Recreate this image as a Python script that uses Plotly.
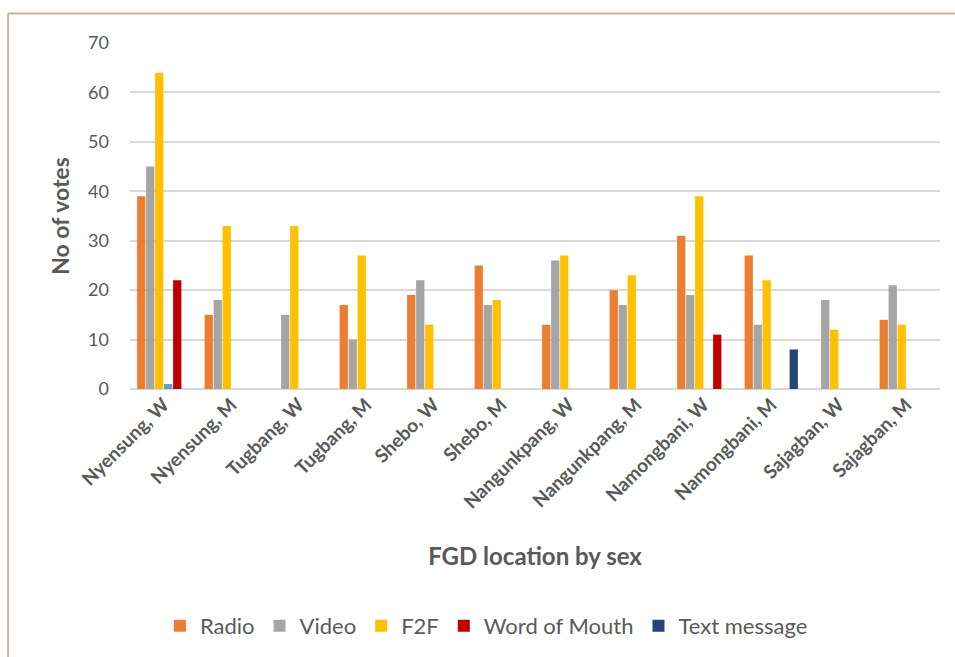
import plotly.graph_objects as go

# Focus-group locations, split by sex
locations = [
    "Nyensung, W", "Nyensung, M", "Tugbang, W", "Tugbang, M",
    "Shebo, W", "Shebo, M", "Nangunkpang, W", "Nangunkpang, M",
    "Namongbani, W", "Namongbani, M", "Sajagban, W", "Sajagban, M",
]

# Votes per channel (None = no bar)
radio = [39, 15, None, 17, 19, 25, 13, 20, 31, 27, None, 14]
video = [45, 18, 15, 10, 22, 17, 26, 17, 19, 13, 18, 21]
f2f = [64, 33, 33, 27, 13, 18, 27, 23, 39, 22, 12, 13]
other = [1, None, None, None, None, None, None, None, None, None, None, None]
word_of_mouth = [22, None, None, None, None, None, None, None, 11, None, None, None]
text_message = [None, None, None, None, None, None, None, None, None, 8, None, None]

y_ticks = [0, 10, 20, 30, 40, 50, 60, 70]

FONT = "Lato"
TEXT = "#595959"

series = [
    ("Radio", radio, "#ED7D31", True),
    ("Video", video, "#A5A5A5", True),
    ("F2F", f2f, "#FFC000", True),
    ("Other", other, "#5B9BD5", False),
    ("Word of Mouth", word_of_mouth, "#C00000", True),
    ("Text message", text_message, "#264478", True),
]

fig = go.Figure()
for name, vals, color, show in series:
    fig.add_trace(go.Bar(
        x=locations, y=vals, name=name, showlegend=show,
        marker=dict(color=color, line=dict(width=0)),
    ))

fig.update_layout(
    width=955, height=657,
    margin=dict(l=130, r=15, t=43, b=267),
    paper_bgcolor="white", plot_bgcolor="white",
    barmode="group", bargap=0.2, bargroupgap=0.08,
    font=dict(family=FONT, color=TEXT, size=16),
    showlegend=True,
    legend=dict(
        orientation="h", x=0.44, xanchor="center", y=-0.68, yanchor="middle",
        font=dict(family=FONT, size=22, color=TEXT),
        traceorder="normal", itemwidth=30,
    ),
    xaxis=dict(
        tickangle=-45, showgrid=False, showline=False, ticks="",
        tickfont=dict(family=FONT, size=19, color=TEXT, weight="bold"),
        title=dict(text="FGD location by sex", standoff=36,
                   font=dict(family=FONT, size=24, color=TEXT, weight="bold")),
    ),
    yaxis=dict(
        range=[0, 70], tickvals=y_ticks, showgrid=True,
        gridcolor="#D9D9D9", gridwidth=1.5,
        zeroline=True, zerolinecolor="#D9D9D9", zerolinewidth=1.5,
        ticks="", ticklabelstandoff=20,
        tickfont=dict(family=FONT, size=18, color=TEXT),
        title=dict(text="No of votes", standoff=12,
                   font=dict(family=FONT, size=23, color=TEXT, weight="bold")),
    ),
    shapes=[
        # chart-area frame (top and left edges)
        dict(type="line", xref="paper", yref="paper",
             x0=-0.1505, x1=1.02, y0=1.085, y1=1.085,
             line=dict(color="#C8B4A4", width=2)),
        dict(type="line", xref="paper", yref="paper",
             x0=-0.1505, x1=-0.1505, y0=1.085, y1=-0.8,
             line=dict(color="#C8B4A4", width=2)),
    ],
)

fig.write_html("out.html", config={"displayModeBar": False})
